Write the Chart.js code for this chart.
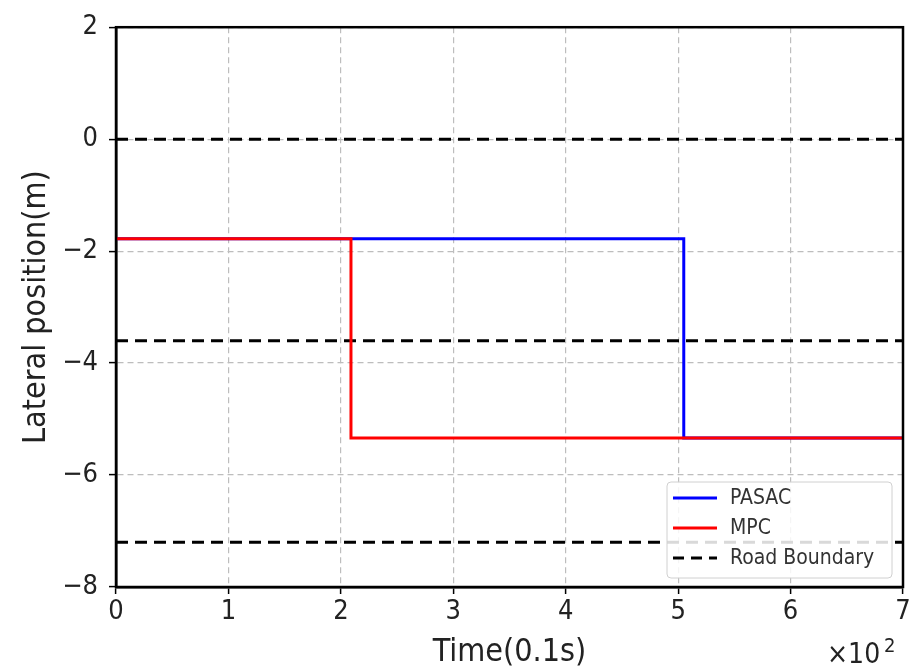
<!DOCTYPE html>
<html>
<head>
<meta charset="utf-8">
<script src="https://cdn.jsdelivr.net/npm/chart.js@4.4.1/dist/chart.umd.min.js"></script>
<style>
html,body{margin:0;padding:0;background:#fff;overflow:hidden}
#wrap{width:914px;height:667px}
canvas{display:block}
</style>
</head>
<body>
<div id="wrap"><canvas id="laneChart" width="914" height="667"></canvas></div>
<script>
// time steps (0.1s) and lateral positions (m)
const pasacTime = [0, 505, 505, 700]
const pasacPos = [-1.78, -1.78, -5.34, -5.34]

const mpcTime = [0, 209, 209, 700]
const mpcPos = [-1.78, -1.78, -5.34, -5.34]

const boundaryTime = [0, 700]
const boundaryLevels = [0, -3.6, -7.2]

const xTicks = [0, 100, 200, 300, 400, 500, 600, 700]
const yTicks = [2, 0, -2, -4, -6, -8]

const AREA = {left:116, top:23, right:903, bottom:587}
const FONT = "'DejaVu Sans Condensed', 'DejaVu Sans', sans-serif"

function toPoints(xs, ys){
    return xs.map((x, i) => ({x:x, y:ys[i]}))
}

const boundarySets = boundaryLevels.map(level => ({
    label:"Road Boundary",
    data:toPoints(boundaryTime, boundaryTime.map(() => level)),
    borderColor:"#000",
    borderWidth:3,
    borderDash:[12,7],
    pointRadius:0,
    order:2
}))

// frame, multiplier and legend drawn on top of the plot
const extras = {
    id:"extras",
    afterDatasetsDraw(chart){
        const c = chart.ctx
        const a = chart.chartArea
        c.save()
        c.strokeStyle = "#000"
        c.lineWidth = 2.5
        c.strokeRect(a.left, a.top, a.right - a.left, a.bottom - a.top)

        // legend box
        const lx = 667, ly = 482, lw = 225, lh = 96
        c.fillStyle = "rgba(255,255,255,0.85)"
        c.strokeStyle = "#d0d0d0"
        c.lineWidth = 1
        c.beginPath()
        c.roundRect(lx, ly, lw, lh, 4)
        c.fill()
        c.stroke()
        const rows = [
            {text:"PASAC", color:"#0000ff", dash:[]},
            {text:"MPC", color:"#ff0000", dash:[]},
            {text:"Road Boundary", color:"#000", dash:[11,7]}
        ]
        c.font = "21px " + FONT
        c.textBaseline = "middle"
        rows.forEach((r, i) => {
            const y = ly + 16 + i * 30
            c.strokeStyle = r.color
            c.lineWidth = 3
            c.setLineDash(r.dash)
            c.beginPath()
            c.moveTo(lx + 6, y)
            c.lineTo(lx + 50, y)
            c.stroke()
            c.setLineDash([])
            c.fillStyle = "#333"
            c.fillText(r.text, lx + 63, y + 1)
        })

        // x10^2 multiplier
        c.fillStyle = "#222"
        c.textBaseline = "alphabetic"
        c.font = "28px " + FONT
        c.fillText("\u00d710", 827, 663)
        c.font = "20px " + FONT
        c.fillText("2", 884, 652)
        c.restore()
    }
}

const laneChart =
new Chart(document.getElementById("laneChart"), {

    type:"line",

    data:{
        datasets:[
            {
                label:"MPC",
                data:toPoints(mpcTime, mpcPos),
                borderColor:"#ff0000",
                borderWidth:3,
                pointRadius:0,
                order:0
            },
            {
                label:"PASAC",
                data:toPoints(pasacTime, pasacPos),
                borderColor:"#0000ff",
                borderWidth:3,
                pointRadius:0,
                order:1
            },
            ...boundarySets
        ]
    },

    options:{
        responsive:false,
        animation:false,
        layout:{
            autoPadding:false,
            padding:{left:13, top:AREA.top, right:914 - AREA.right, bottom:0}
        },
        plugins:{
            legend:{display:false},
            tooltip:{enabled:false}
        },
        scales:{
            x:{
                type:"linear",
                min:0,
                max:700,
                afterBuildTicks(s){ s.ticks = xTicks.map(v => ({value:v})) },
                afterFit(s){ s.height = 667 - AREA.bottom },
                ticks:{
                    color:"#222",
                    font:{family:FONT, size:27},
                    padding:2,
                    callback:v => String(v / 100)
                },
                grid:{
                    color:"#bdbdbd",
                    lineWidth:1.2,
                    tickLength:7,
                    tickColor:"#000",
                    tickWidth:1.5
                },
                border:{color:"#000", width:2.5, dash:[6,4]},
                title:{
                    display:true,
                    text:"Time(0.1s)",
                    color:"#222",
                    font:{family:FONT, size:32, lineHeight:0.9},
                    padding:{top:0, bottom:0}
                }
            },
            y:{
                min:-8,
                max:2,
                afterBuildTicks(s){ s.ticks = yTicks.map(v => ({value:v})) },
                afterFit(s){ s.width = AREA.left - 13 },
                ticks:{
                    color:"#222",
                    font:{family:FONT, size:27},
                    padding:11,
                    callback:v => v < 0 ? "\u2212" + Math.abs(v) : String(v)
                },
                grid:{
                    color:"#bdbdbd",
                    lineWidth:1.2,
                    tickLength:7,
                    tickColor:"#000",
                    tickWidth:1.5
                },
                border:{color:"#000", width:2.5, dash:[6,4]},
                title:{
                    display:true,
                    text:"Lateral position(m)",
                    color:"#222",
                    font:{family:FONT, size:32},
                    padding:{bottom:2}
                }
            }
        }
    },

    plugins:[extras]
})
</script>
</body>
</html>
